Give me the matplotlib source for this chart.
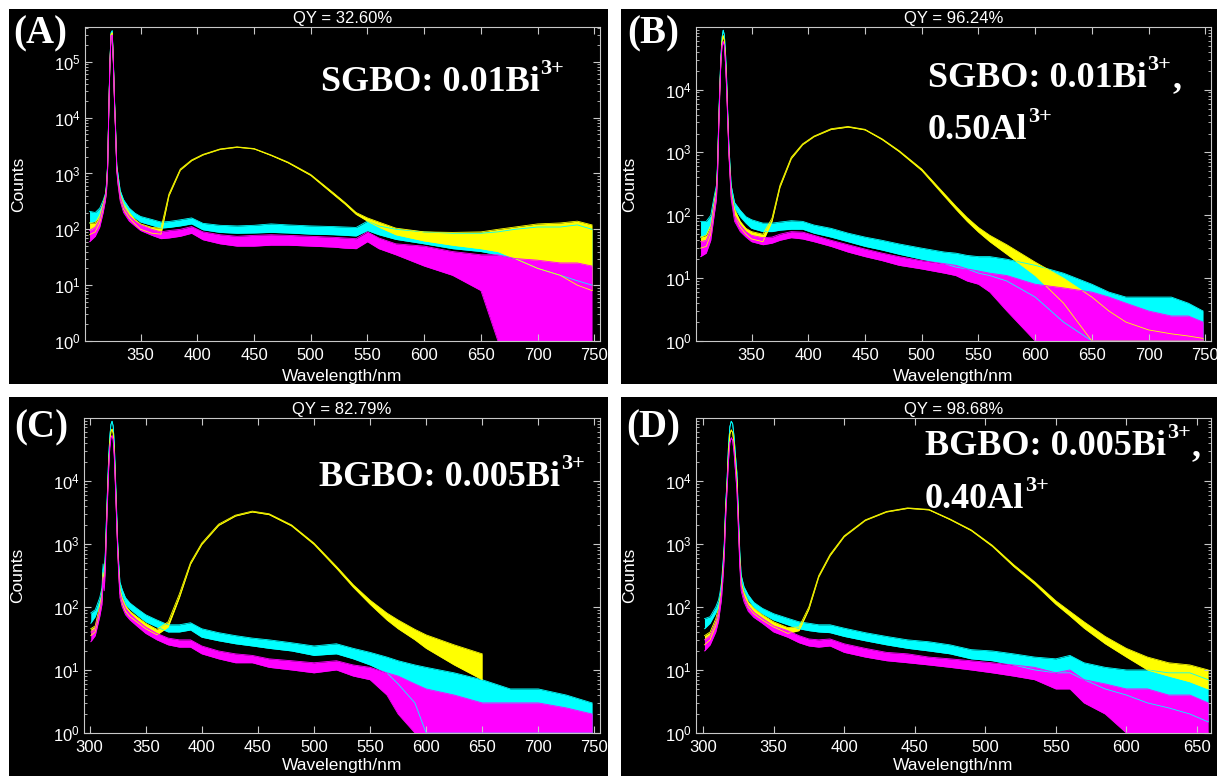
import numpy as np
import matplotlib
matplotlib.use("Agg")
from matplotlib import pyplot as plt
from matplotlib.patches import Rectangle
from matplotlib.ticker import LogLocator, NullFormatter, MultipleLocator

plt.rcParams['font.family'] = ['Liberation Sans', 'DejaVu Sans']
plt.rcParams['mathtext.fontset'] = 'custom'
plt.rcParams['mathtext.default'] = 'regular'

nan = float('nan')

# (A) SGBO: 0.01Bi3+   -- counts read as lower / upper edge of the noise band
wl_a = [305, 310, 314, 317, 319, 320, 321, 322, 323, 324, 325, 326, 327, 328, 329, 330, 332, 335, 340, 345,
        350, 360, 368, 375, 385, 395, 405, 420, 435, 450, 465, 480, 500, 520, 530, 540, 550, 560, 575, 600,
        625, 650, 665, 680, 700, 720, 735, 748]
cyan_a_lo = [130, 140, 170, 260, 380, 600, 1500, 15000, 110000, 330000, 360000, 110000, 22000, 6000, 1300, 800, 420, 280, 200, 160,
             135, 118, 105, 108, 115, 125, 98, 88, 85, 86, 88, 86, 82, 80, 78, 76, 95, 80, 66, 55,
             45, 40, 35, 30, 20, 15, 12, 10]
cyan_a_hi = [210, 200, 240, 330, 440, 680, 1600, 15500, 110000, 330000, 360000, 110000, 22000, 6200, 1400, 1000, 500, 340, 240, 195,
             170, 150, 135, 138, 148, 160, 128, 118, 115, 118, 125, 120, 115, 112, 110, 108, 140, 115, 100, 90,
             85, 85, 90, 100, 110, 110, 120, 100]
yel_a_lo = [80, 90, 130, 230, 350, 550, 1400, 14000, 100000, 310000, 330000, 100000, 20000, 5500, 1200, 700, 350, 230, 160, 125,
            100, 85, 82, 400, 1150, 1700, 2150, 2700, 2950, 2750, 2100, 1550, 920, 420, 285, 185, 140, 110, 80, 62,
            52, 45, 40, 30, 20, 15, 10, 8]
yel_a_hi = [130, 130, 180, 290, 410, 620, 1500, 14500, 100000, 310000, 330000, 100000, 20000, 5700, 1300, 850, 430, 290, 200, 150,
            125, 108, 105, 430, 1200, 1750, 2200, 2750, 3000, 2800, 2150, 1600, 960, 450, 305, 200, 160, 135, 105, 90,
            88, 90, 100, 110, 125, 130, 140, 120]
mag_a_lo = [60, 75, 110, 200, 330, 500, 1300, 13000, 95000, 290000, 300000, 95000, 18000, 5000, 1100, 650, 320, 200, 140, 115,
            95, 78, 68, 70, 75, 85, 65, 55, 50, 50, 52, 52, 50, 48, 46, 45, 60, 45, 35, 22,
            15, 8, 1, 1, 1, 1, 1, 1]
mag_a_hi = [95, 110, 150, 260, 380, 560, 1400, 13500, 95000, 290000, 300000, 95000, 18000, 5200, 1200, 780, 400, 250, 175, 140,
            120, 100, 90, 95, 100, 112, 90, 80, 75, 78, 80, 78, 75, 72, 70, 68, 90, 70, 55, 50,
            40, 35, 35, 30, 28, 25, 25, 22]

# (B) SGBO: 0.01Bi3+, 0.50Al3+
wl_b = [305, 310, 314, 317, 319, 320, 321, 322, 323, 324, 325, 326, 327, 328, 329, 330, 332, 335, 340, 345,
        350, 360, 368, 375, 385, 395, 405, 420, 435, 450, 465, 480, 500, 520, 530, 540, 550, 560, 575, 600,
        625, 650, 665, 680, 700, 720, 735, 748]
cyan_b_lo = [45, 50, 70, 150, 250, 600, 3000, 12000, 35000, 68000, 88000, 74000, 40000, 15000, 4000, 1200, 260, 130, 95, 75,
             62, 55, 55, 58, 60, 60, 52, 45, 38, 32, 28, 24, 20, 17, 15, 14, 12, 11, 9, 5,
             2, 1, 1, 1, 1, 1, 1, 1]
cyan_b_hi = [80, 80, 100, 200, 300, 700, 3200, 12500, 35000, 68000, 88000, 74000, 40000, 15500, 4200, 1300, 300, 160, 120, 95,
             85, 75, 75, 78, 82, 80, 70, 62, 52, 45, 40, 35, 30, 26, 25, 23, 22, 22, 20, 16,
             12, 8, 6, 5, 5, 5, 4, 3]
yel_b_lo = [30, 32, 50, 120, 210, 520, 2600, 10000, 30000, 58000, 72000, 60000, 32000, 12000, 3500, 1000, 200, 100, 65, 50,
            42, 38, 80, 280, 800, 1330, 1780, 2320, 2530, 2280, 1600, 1030, 515, 200, 125, 80, 54, 38, 24, 11,
            4, 1, 1, 1, 1, 1, 1, 1]
yel_b_hi = [45, 48, 70, 160, 260, 600, 2800, 10500, 30000, 58000, 72000, 60000, 32000, 12500, 3700, 1100, 240, 125, 80, 62,
            55, 50, 90, 300, 840, 1370, 1820, 2380, 2590, 2330, 1650, 1070, 545, 220, 140, 92, 64, 48, 34, 18,
            10, 5, 3, 2, 1.5, 1.3, 1.2, 1.1]
mag_b_lo = [22, 25, 40, 100, 180, 450, 2200, 9000, 28000, 50000, 58000, 50000, 26000, 10000, 3000, 900, 180, 80, 55, 45,
            38, 34, 36, 40, 44, 42, 38, 32, 26, 22, 19, 16, 14, 12, 11, 9, 8, 6, 3, 1,
            1, 1, 1, 1, 1, 1, 1, 1]
mag_b_hi = [38, 40, 60, 140, 220, 520, 2400, 9500, 28000, 50000, 58000, 50000, 26000, 10500, 3200, 1000, 220, 100, 70, 55,
            48, 44, 45, 50, 55, 54, 48, 40, 34, 29, 25, 22, 19, 17, 16, 14, 13, 12, 11, 8,
            7, 6, 5, 4, 3, 2.5, 2.5, 2]

# (C) BGBO: 0.005Bi3+  (yellow trace stops at 650 nm)
wl_c = [301, 305, 309, 311, 312, 313, 314, 315, 316, 317, 318, 319, 320, 321, 322, 323, 324, 325, 326, 327,
        329, 332, 336, 342, 350, 360, 370, 380, 390, 400, 415, 430, 445, 460, 480, 500, 520, 535, 550, 565,
        575, 590, 600, 625, 650, 675, 700, 725, 748]
cyan_c_lo = [55, 70, 110, 160, 400, 280, 650, 2400, 7500, 24000, 50000, 78000, 88000, 74000, 40000, 12000, 3500, 1000, 420, 200,
             150, 110, 92, 75, 58, 48, 40, 40, 43, 33, 29, 26, 24, 22, 20, 17, 18, 15, 12, 9,
             6, 3, 1, 1, 1, 1, 1, 1, 1]
cyan_c_hi = [80, 90, 140, 200, 480, 330, 750, 2600, 8000, 24000, 50000, 78000, 88000, 74000, 40000, 12500, 3800, 1100, 480, 250,
             190, 140, 115, 95, 75, 62, 52, 52, 56, 45, 39, 35, 32, 30, 27, 24, 26, 22, 19, 16,
             14, 12, 11, 9, 7, 5, 5, 4, 3]
yel_c_lo = [35, 40, 85, 130, 300, 220, 500, 1800, 6000, 18000, 40000, 60000, 66000, 57000, 30000, 9500, 2800, 850, 350, 165,
            115, 85, 70, 58, 45, 36, 48, 140, 480, 980, 1960, 2760, 3200, 2900, 1920, 980, 410, 205, 110, 62,
            45, 30, 22, 12, 7, nan, nan, nan, nan]
yel_c_hi = [45, 50, 105, 160, 350, 260, 560, 1900, 6300, 18000, 40000, 60000, 66000, 57000, 30000, 10000, 3000, 950, 400, 195,
            140, 105, 85, 70, 55, 44, 58, 160, 510, 1030, 2050, 2850, 3300, 3000, 2000, 1030, 440, 225, 128, 80,
            62, 44, 36, 25, 18, nan, nan, nan, nan]
mag_c_lo = [28, 35, 70, 110, 250, 180, 400, 1500, 5000, 15000, 33000, 48000, 52000, 45000, 24000, 8000, 2500, 750, 300, 140,
            100, 75, 62, 50, 38, 30, 25, 23, 23, 18, 15, 13, 13, 11, 10, 9, 10, 8, 7, 4,
            2, 1, 1, 1, 1, 1, 1, 1, 1]
mag_c_hi = [40, 45, 90, 140, 300, 220, 460, 1650, 5400, 15000, 33000, 48000, 52000, 45000, 24000, 8500, 2700, 850, 350, 170,
            125, 95, 78, 62, 48, 38, 32, 30, 30, 24, 20, 18, 17, 15, 14, 13, 14, 12, 11, 9,
            8, 6, 5, 4, 3, 3, 3, 2.5, 2]

# (D) BGBO: 0.005Bi3+, 0.40Al3+
wl_d = [301, 305, 309, 311, 312, 313, 314, 315, 316, 317, 318, 319, 320, 321, 322, 323, 324, 325, 326, 327,
        329, 332, 336, 342, 350, 360, 368, 375, 382, 390, 400, 415, 430, 445, 460, 475, 490, 505, 520, 535,
        550, 560, 570, 585, 600, 615, 630, 645, 658]
cyan_d_lo = [45, 55, 80, 100, 140, 200, 400, 900, 4000, 10000, 35000, 72000, 88000, 80000, 50000, 25000, 13000, 3000, 700, 280,
             180, 130, 98, 78, 62, 52, 45, 42, 40, 39, 34, 29, 25, 22, 20, 18, 15, 14, 12, 10,
             9, 9, 7, 5, 4, 3, 2.5, 2, 1.5]
cyan_d_hi = [65, 70, 100, 130, 170, 240, 460, 1000, 4200, 10500, 35000, 72000, 88000, 80000, 50000, 25000, 13500, 3200, 780, 320,
             210, 155, 118, 95, 78, 66, 58, 55, 52, 52, 46, 39, 34, 30, 28, 25, 21, 20, 18, 16,
             15, 17, 13, 11, 10, 10, 9, 9, 7]
yel_d_lo = [25, 30, 50, 75, 110, 160, 320, 750, 3200, 8500, 27000, 55000, 64000, 58000, 38000, 19000, 10000, 2400, 560, 220,
            145, 100, 78, 62, 48, 38, 42, 92, 300, 650, 1300, 2350, 3200, 3650, 3450, 2420, 1620, 910, 440, 230,
            110, 72, 46, 26, 16, 10, 8, 6.5, 5]
yel_d_hi = [35, 40, 65, 95, 135, 190, 360, 820, 3400, 8500, 27000, 55000, 64000, 58000, 38000, 19000, 10500, 2600, 620, 250,
            170, 120, 95, 75, 58, 47, 48, 100, 315, 680, 1340, 2400, 3260, 3720, 3520, 2480, 1670, 950, 470, 250,
            125, 85, 58, 34, 22, 16, 13, 12, 10]
mag_d_lo = [20, 25, 40, 60, 90, 130, 260, 600, 2500, 7000, 20000, 40000, 48000, 44000, 28000, 14000, 7000, 1800, 450, 180,
            120, 85, 68, 55, 40, 33, 27, 24, 23, 24, 19, 16, 14, 13, 12, 11, 10, 9, 8, 7,
            5, 5, 3, 2, 1, 1, 1, 1, 1]
mag_d_hi = [30, 35, 55, 80, 115, 160, 300, 680, 2700, 7000, 20000, 40000, 48000, 44000, 28000, 14000, 7500, 2000, 520, 210,
            145, 105, 82, 66, 50, 42, 35, 31, 30, 31, 26, 22, 19, 18, 16, 15, 14, 13, 12, 11,
            9, 10, 7, 6, 5, 5, 4, 4, 3]

titles = ["QY = 32.60%", "QY = 96.24%", "QY = 82.79%", "QY = 98.68%"]
letters = ["(A)", "(B)", "(C)", "(D)"]

W, H = 1220, 776


def fx(px):
    return px / W


def fy(py):
    return 1 - py / H


fig = plt.figure(figsize=(12.2, 7.76), dpi=100, facecolor='white')

# black tiles behind each panel
for x0, y0, x1, y1 in [(9, 9, 608, 384), (621, 9, 1217, 384), (9, 397, 608, 776), (621, 397, 1217, 776)]:
    fig.patches.append(Rectangle((fx(x0), fy(y1)), fx(x1) - fx(x0), fy(y0) - fy(y1),
                                 transform=fig.transFigure, facecolor='black', edgecolor='none', zorder=-10))


def make_axes(left, top, right, bottom):
    ax = fig.add_axes([fx(left), fy(bottom), fx(right) - fx(left), fy(top) - fy(bottom)])
    ax.set_zorder(1)
    return ax


def draw_panel(ax, wl, traces, xlim, ylim, title, xlab_y):
    ax.set_facecolor('black')
    for lo, hi, c in traces:
        ax.fill_between(wl, lo, hi, color=c, lw=0)
        ax.plot(wl, lo, color=c, lw=0.6)
        ax.plot(wl, hi, color=c, lw=0.6)
    ax.set_yscale('log')
    ax.set_xlim(*xlim)
    ax.set_ylim(*ylim)
    ax.xaxis.set_major_locator(MultipleLocator(50))
    ax.yaxis.set_major_locator(LogLocator(base=10))
    ax.yaxis.set_minor_locator(LogLocator(base=10, subs=range(2, 10)))
    ax.yaxis.set_minor_formatter(NullFormatter())
    for s in ax.spines.values():
        s.set_color('#c8c8c8')
        s.set_linewidth(0.8)
    ax.tick_params(which='both', direction='in', top=True, right=True, colors='#c8c8c8',
                   labelcolor='white', labelsize=12, pad=3)
    ax.tick_params(axis='x', pad=5)
    ax.tick_params(which='major', length=5)
    ax.tick_params(which='minor', length=2.5)
    ax.set_title(title, color='white', fontsize=12, pad=3)
    ax.set_xlabel('Wavelength/nm', color='white', fontsize=12.5)
    ax.set_ylabel('Counts', color='white', fontsize=12.5)
    ax.xaxis.set_label_coords(0.5, xlab_y)
    ax.yaxis.set_label_coords(-0.115, 0.5)


ax_a = make_axes(85, 27, 600, 341)
ax_b = make_axes(696, 27, 1211, 341)
ax_c = make_axes(84, 418, 600, 733)
ax_d = make_axes(696, 418, 1211, 733)

draw_panel(ax_a, wl_a, [(cyan_a_lo, cyan_a_hi, '#00ffff'), (yel_a_lo, yel_a_hi, '#ffff00'),
                        (mag_a_lo, mag_a_hi, '#ff00ff')], (301, 755), (1, 4.2e5), titles[0], -0.088)
draw_panel(ax_b, wl_b, [(cyan_b_lo, cyan_b_hi, '#00ffff'), (yel_b_lo, yel_b_hi, '#ffff00'),
                        (mag_b_lo, mag_b_hi, '#ff00ff')], (301, 755), (1, 9.9e4), titles[1], -0.088)
draw_panel(ax_c, wl_c, [(cyan_c_lo, cyan_c_hi, '#00ffff'), (yel_c_lo, yel_c_hi, '#ffff00'),
                        (mag_c_lo, mag_c_hi, '#ff00ff')], (295, 755), (1, 9.9e4), titles[2], -0.078)
draw_panel(ax_d, wl_d, [(cyan_d_lo, cyan_d_hi, '#00ffff'), (yel_d_lo, yel_d_hi, '#ffff00'),
                        (mag_d_lo, mag_d_hi, '#ff00ff')], (295, 660), (1, 9.9e4), titles[3], -0.078)

serif = dict(color='white', fontweight='bold', family='Liberation Serif')

# panel letters
for (x, y), lab in zip([(13, 43), (627, 43), (14, 437), (626, 437)], letters):
    fig.text(fx(x), fy(y), lab, fontsize=28, va='baseline', **serif)


def sample_label(ax, x, y, main, sup, comma=False):
    t = fig.text(fx(x), fy(y), main, fontsize=26, va='baseline', **serif)
    s = ax.annotate(sup, xy=(1, 1), xycoords=t, xytext=(0.5, 5), textcoords='offset points',
                    ha='left', va='top', fontsize=16, annotation_clip=False, **serif)
    if comma:
        ax.annotate(',', xy=(1, 0), xycoords=(s, t), xytext=(1, 0), textcoords='offset points',
                    ha='left', va='bottom', fontsize=26, annotation_clip=False, **serif)


sample_label(ax_a, 321, 91, 'SGBO: 0.01Bi', '3+')
sample_label(ax_b, 928, 87, 'SGBO: 0.01Bi', '3+', comma=True)
sample_label(ax_b, 928, 139, '0.50Al', '3+')
sample_label(ax_c, 319, 486, 'BGBO: 0.005Bi', '3+')
sample_label(ax_d, 925, 455, 'BGBO: 0.005Bi', '3+', comma=True)
sample_label(ax_d, 925, 508, '0.40Al', '3+')

fig.savefig('out.png', dpi=100, facecolor='white')
